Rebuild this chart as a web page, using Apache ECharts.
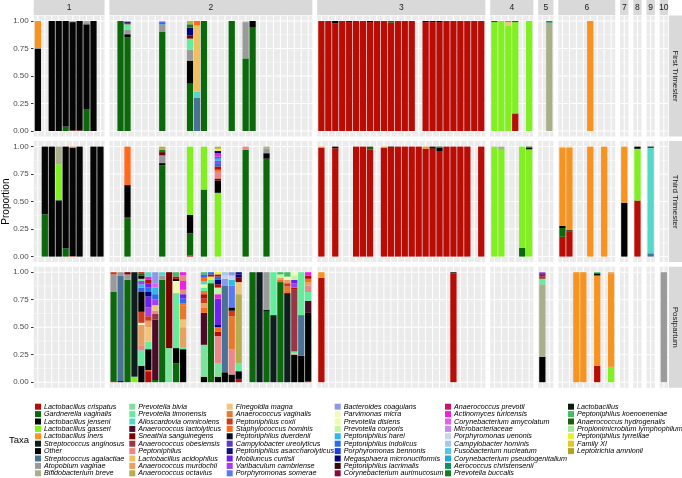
<!DOCTYPE html>
<html>
<head>
<meta charset="utf-8">
<script src="https://cdn.jsdelivr.net/npm/echarts@6.0.0/dist/echarts.min.js"></script>
<style>
html, body { margin: 0; padding: 0; background: #fff; }
#chart { width: 682px; height: 478px; }
</style>
</head>
<body>
<div id="chart"></div>
<script>
// facets
const clusterLabels = ['1', '2', '3', '4', '5', '6', '7', '8', '9', '10'];
const timepointLabels = ['First Trimester', 'Third Trimester', 'Postpartum'];
const samplesPerCluster = [10, 29, 24, 6, 2, 8, 1, 1, 1, 1];
const yTicks = [0, 0.25, 0.5, 0.75, 1];
const yMinorTicks = [0.125, 0.375, 0.625, 0.875];

// taxa (legend order, 10 per column)
const taxaCodes = ['Lcr', 'Gva', 'Ljen', 'Lga', 'Lin', 'San', 'Oth', 'Sag', 'Ava', 'Bbr',
  'Pbi', 'Pti', 'Aom', 'Ala', 'Ssa', 'Aob', 'Pep', 'Lac', 'Amu', 'Aoc',
  'Fma', 'Avg', 'Pco', 'Sho', 'Pdu', 'Cur', 'Pas', 'Mcu', 'Vca', 'Pso',
  'Bco', 'Pmi', 'Pdi', 'Pcor', 'Pha', 'Pind', 'Pbe', 'Mmi', 'Pla', 'Cau',
  'Apr', 'Atu', 'Cam', 'Mic', 'Pue', 'Cho', 'Fnu', 'Cps', 'Ach', 'Pbu',
  'Lsp', 'Pko', 'Ahy', 'Ply', 'Pty', 'FXI', 'Lam'];
const taxaNames = ['Lactobacillus crispatus', 'Gardnerella vaginalis', 'Lactobacillus jenseni', 'Lactobacillus gasseri', 'Lactobacillus iners',
  'Streptococcus anginosus', 'Other', 'Streptococcus agalactiae', 'Atopobium vaginae', 'Bifidobacterium breve',
  'Prevotella bivia', 'Prevotella timonensis', 'Alloscardovia omnicolens', 'Anaerococcus lactolyticus', 'Sneathia sanguinegens',
  'Anaerococcus obesiensis', 'Peptoniphilus', 'Lactobacillus acidophilus', 'Anaerococcus murdochii', 'Anaerococcus octavius',
  'Finegoldia magna', 'Anaerococcus vaginalis', 'Peptoniphilus coxii', 'Staphylococcus hominis', 'Peptoniphilus duerdenii',
  'Campylobacter ureolyticus', 'Peptoniphilus asaccharolyticus', 'Mobiluncus curtisii', 'Varibaculum cambriense', 'Porphyromonas somerae',
  'Bacteroides coagulans', 'Parvimonas micra', 'Prevotella disiens', 'Prevotella corporis', 'Peptoniphilus harei',
  'Peptoniphilus indolicus', 'Porphyromonas bennonis', 'Megasphaera micronuciformis', 'Peptoniphilus lacrimalis', 'Corynebacterium aurimucosum',
  'Anaerococcus prevotii', 'Actinomyces turicensis', 'Corynebacterium amycolatum', 'Microbacteriaceae', 'Porphyromonas uenonis',
  'Campylobacter hominis', 'Fusobacterium nucleatum', 'Corynebacterium pseudogenitalium', 'Aerococcus christensenii', 'Prevotella buccalis',
  'Lactobacillus', 'Peptoniphilus koenoeneniae', 'Anaerococcus hydrogenalis', 'Propionimicrobium lymphophilum', 'Peptoniphilus tyrrelliae',
  'Family XI', 'Leptotrichia amnionii'];
const taxaColors = ['#B80C05', '#0B690B', '#050505', '#80F020', '#F7931E', '#0E1E1E', '#000000', '#4A7196', '#9A9A9A', '#A8AF8A',
  '#7BE39B', '#62EC9C', '#55D8C8', '#4A0A28', '#7A0000', '#9A3545', '#E8888A', '#F0C060', '#E9A060', '#B5AE4E',
  '#F0C57A', '#E8782E', '#CC3A1E', '#FF6A1F', '#0A0A1E', '#5A3AC8', '#10107A', '#7020F0', '#A040F0', '#5A78F0',
  '#8A9AE8', '#F2F8BE', '#EAFFA8', '#C0F8A0', '#30B8E8', '#2E6AF0', '#1A40E0', '#000080', '#3A0808', '#8A0A38',
  '#D0106A', '#F020E0', '#E060F0', '#C48AF0', '#C8D4F4', '#A0C8F0', '#50C8EE', '#20A8E0', '#109060', '#108020',
  '#0A1F0A', '#40C060', '#1F5A0F', '#A8E89A', '#E8F030', '#E0C828', '#B0A420'];

// per timepoint, per cluster: sample index -> segments bottom to top [taxon, proportion]
const firstTrimester = [
  { 0: [['Ljen', .75], ['Ava', .005], ['Lin', .245]], 2: [['Ljen', 1]], 3: [['Ljen', 1]], 4: [['Gva', .04], ['Ljen', .96]],
    5: [['Lcr', .005], ['Ljen', .985], ['Aoc', .01]], 6: [['Lcr', .005], ['Ljen', .995]],
    7: [['Gva', .2], ['Ljen', .77], ['Ava', .02], ['Aom', .01]], 8: [['Ljen', 1]] },
  { 1: [['Gva', 1]],
    2: [['Gva', .85], ['Oth', .03], ['Ava', .04], ['Pti', .05], ['Lcr', .01], ['Mmi', .01], ['Pep', .01]],
    7: [['Gva', .9], ['Ava', .07], ['Pind', .02], ['Aom', .01]],
    11: [['Gva', .43], ['Oth', .21], ['Ava', .1], ['Pti', .1], ['Ssa', .03], ['Mmi', .07], ['Pbu', .03], ['Aoc', .03]],
    12: [['Sag', .3], ['Aom', .06], ['Lac', .6], ['Sho', .04]],
    13: [['Gva', 1]], 17: [['Gva', 1]],
    19: [['Gva', .66], ['Ava', .33], ['Pue', .01]],
    20: [['Gva', .94], ['Oth', .06]] },
  { 0: [['Lcr', 1]], 1: [['Lcr', 1]], 2: [['Lcr', .98], ['Oth', .02]], 3: [['Lcr', 1]], 4: [['Lcr', .99], ['Lsp', .01]],
    5: [['Lcr', 1]], 6: [['Lcr', 1]], 7: [['Lcr', .99], ['Oth', .01]], 8: [['Lcr', 1]], 9: [['Lcr', 1]],
    10: [['Lcr', .985], ['Ahy', .015]], 11: [['Lcr', 1]], 12: [['Lcr', 1]], 13: [['Lcr', 1]],
    15: [['Lcr', .99], ['Oth', .01]], 16: [['Lcr', .99], ['Lsp', .01]], 17: [['Lcr', .99], ['Oth', .01]],
    18: [['Lcr', 1]], 19: [['Lcr', 1]], 20: [['Lcr', 1]], 21: [['Lcr', 1]], 22: [['Lcr', 1]], 23: [['Lcr', 1]] },
  { 0: [['Lga', .99], ['Gva', .01]], 1: [['Lga', 1]], 2: [['Lga', .955], ['Fma', .04], ['Gva', .005]],
    3: [['Lcr', .16], ['Lga', .83], ['Gva', .01]], 5: [['Lga', 1]] },
  { 1: [['Bbr', .985], ['Ach', .015]] },
  { 4: [['Lin', 1]] },
  {}, {}, {}, {}
];

const thirdTrimester = [
  { 1: [['Gva', .385], ['Ljen', .615]], 2: [['Ljen', 1]], 3: [['Ljen', .51], ['Gva', .005], ['Lga', .325], ['Bbr', .16]],
    4: [['Gva', .075], ['Ljen', .925]], 5: [['Lcr', .005], ['Ljen', .985], ['Sho', .01]], 6: [['Ljen', 1]],
    8: [['Ljen', 1]], 9: [['Ljen', 1]] },
  { 2: [['Gva', .35], ['Lcr', .01], ['Oth', .29], ['Sho', .35]],
    7: [['Gva', .83], ['Oth', .02], ['Ava', .07], ['Ssa', .03], ['Pbu', .02], ['Aoc', .03]],
    11: [['Lcr', .01], ['Gva', .2], ['Oth', .17], ['Lga', .62]],
    13: [['Gva', .61], ['Lga', .39]],
    15: [['Lga', .58], ['Oth', .11], ['Ssa', .02], ['Pep', .06], ['Sho', .02], ['Lcr', .03], ['Pind', .03], ['Vca', .02],
      ['Pha', .02], ['Pind', .02], ['Atu', .03], ['Mmi', .02], ['Pty', .02], ['Aoc', .02]],
    19: [['Gva', .97], ['Pep', .03]],
    22: [['Gva', .89], ['Oth', .05], ['Ava', .04], ['Bbr', .02]] },
  { 0: [['Lcr', .99], ['Lin', .01]], 2: [['Lcr', .985], ['Oth', .015]], 5: [['Lcr', 1]], 6: [['Lcr', 1]],
    7: [['Lcr', .975], ['Ahy', .025]], 9: [['Lcr', .99], ['Lin', .01]], 10: [['Lcr', .99], ['Oth', .01]],
    11: [['Lcr', 1]], 12: [['Lcr', 1]], 13: [['Lcr', 1]], 14: [['Lcr', 1]], 15: [['Lcr', .98], ['Lin', .02]],
    16: [['Lcr', .98], ['Pla', .02]], 17: [['Lcr', .96], ['Oth', .03], ['Gva', .01]], 18: [['Lcr', 1]],
    19: [['Lcr', 1]], 20: [['Lcr', 1]], 21: [['Lcr', 1]], 23: [['Lcr', 1]] },
  { 0: [['Lga', .99], ['Bbr', .01]], 1: [['Lga', .97], ['Bbr', .03]], 4: [['Gva', .08], ['Lga', .92]],
    5: [['Lga', .975], ['Oth', .015], ['Gva', .01]] },
  {},
  { 0: [['Lcr', .18], ['Gva', .08], ['Oth', .02], ['Lin', .71], ['Fma', .01]], 1: [['Lcr', .23], ['Oth', .01], ['Lin', .75], ['Fma', .01]],
    4: [['Lin', 1]], 6: [['Lin', 1]] },
  { 0: [['Oth', .49], ['Lin', .51]] },
  { 0: [['Lcr', .51], ['Lga', .47], ['Oth', .02]] },
  { 0: [['Sag', .03], ['Aom', .96], ['Oth', .01]] },
  {}
];

const postpartum = [
  {},
  { 0: [['Lcr', .01], ['Gva', .81], ['Ava', .16], ['Pco', .02]],
    1: [['Oth', .01], ['Sag', .96], ['Ava', .03]],
    2: [['Gva', .93], ['Ava', .05], ['Ssa', .02]],
    3: [['Lga', .05], ['San', .95]],
    4: [['Oth', .15], ['Pti', .14], ['Pep', .04], ['Amu', .19], ['Pmi', .02], ['Pco', .1], ['Oth', .18], ['Pind', .04],
      ['Pha', .03], ['Vca', .03], ['Pti', .02], ['Oth', .03], ['Gva', .02], ['Lcr', .01]],
    5: [['Lcr', .1], ['Sho', .01], ['Oth', .19], ['Pti', .07], ['Fma', .13], ['Amu', .05], ['Avg', .01], ['Pco', .04],
      ['Vca', .08], ['Mcu', .1], ['Mmi', .04], ['Pind', .04], ['Mcu', .04], ['Lcr', .03], ['Atu', .03], ['Aom', .04]],
    6: [['Gva', .02], ['Ala', .55], ['Aob', .05], ['Pep', .03], ['Fma', .05], ['Vca', .05], ['Pind', .05], ['Pha', .06],
      ['Cam', .04], ['Bco', .1]],
    7: [['Gva', .93], ['Ava', .04], ['Aom', .03]],
    8: [['Pbi', .31], ['Ssa', .69]],
    9: [['Gva', .17], ['Oth', .14], ['Pti', .5], ['Pdi', .11], ['Oth', .02], ['Lcr', .02], ['Pko', .04]],
    10: [['Oth', .3], ['Pti', .02], ['Amu', .18], ['Fma', .07], ['Avg', .13], ['Sho', .02], ['Pind', .04], ['Mcu', .04],
      ['Pep', .04], ['Atu', .08], ['Pep', .05], ['Atu', .03]],
    13: [['Oth', .05], ['Pbi', .29], ['Ala', .29], ['Sho', .05], ['Amu', .04], ['Pco', .04], ['Lcr', .04], ['Avg', .03],
      ['Pti', .03], ['Pdi', .03], ['Aom', .03], ['Sho', .03], ['Pind', .03], ['Pko', .02]],
    14: [['Gva', .9], ['Pti', .03], ['Pty', .03], ['Lcr', .02], ['Pind', .02]],
    15: [['Oth', .05], ['Pbi', .12], ['Pep', .25], ['Lcr', .04], ['Sho', .04], ['Mmi', .02], ['Mcu', .24], ['Atu', .04],
      ['Pcor', .06], ['Lcr', .03], ['Mmi', .04], ['Pind', .03], ['Lcr', .02], ['Pty', .02]],
    16: [['Oth', .09], ['Sag', .79], ['Bco', .06], ['Pue', .03], ['Cho', .03]],
    17: [['Oth', .07], ['Pep', .23], ['Avg', .3], ['Pco', .05], ['Oth', .03], ['Pso', .2], ['Pha', .05], ['Pue', .04], ['Bco', .03]],
    18: [['Lcr', .03], ['Oth', .07], ['Pti', .07], ['Aoc', .63], ['Fma', .11], ['Ssa', .04], ['Mmi', .03], ['Pas', .02]],
    20: [['Gva', 1]],
    21: [['San', 1]],
    22: [['Gva', .64], ['San', .02], ['Ava', .34]],
    23: [['San', .61], ['Pti', .39]],
    24: [['Gva', .91], ['Sho', .02], ['Amu', .02], ['Pcor', .03], ['Pko', .02]],
    25: [['San', .81], ['Sho', .02], ['Avg', .04], ['Pco', .03], ['Amu', .03], ['Pmi', .03], ['Pko', .04]],
    26: [['Oth', .25], ['Amu', .01], ['Pti', .02], ['Aob', .56], ['Lcr', .02], ['Vca', .04], ['Mcu', .03], ['Pcor', .04], ['Pmi', .03]],
    27: [['Oth', .24], ['Sag', .37], ['Pti', .39]],
    28: [['Lcr', .01], ['Oth', .62], ['Ala', .11], ['Pti', .08], ['Pep', .06], ['Amu', .03], ['Sho', .03], ['Lcr', .03], ['Atu', .03]] },
  { 0: [['Lcr', .95], ['Lin', .05]], 19: [['Lcr', .99], ['Pla', .01]] },
  {},
  { 0: [['Oth', .23], ['Bbr', .66], ['Pti', .05], ['Aob', .02], ['Lcr', .02], ['Mmi', .01], ['Vca', .01]] },
  { 2: [['Lin', 1]], 3: [['Lin', 1]], 5: [['Lcr', .15], ['Lin', .82], ['Oth', .02], ['Pko', .01]],
    7: [['Lga', .14], ['Lin', .85], ['Amu', .01]] },
  {}, {}, {},
  { 0: [['Ava', 1]] }
];

const timepoints = [firstTrimester, thirdTrimester, postpartum];
const codeIndex = {};
taxaCodes.forEach((c, i) => { codeIndex[c] = i; });

// layout
const plotLeft = 33.7, plotRight = 668, colGap = 4.84;
const panelTop = 15.5, panelH = 121, rowGap = 4.6;
const units = samplesPerCluster.map(n => n + 0.2);
const u = (plotRight - plotLeft - colGap * 9) / units.reduce((a, b) => a + b, 0);
const colLeft = [];
let cx = plotLeft;
units.forEach(w => { colLeft.push(cx); cx += w * u + colGap; });
const rowTop = timepoints.map((t, r) => panelTop + r * (panelH + rowGap));

function gridLineItem (params, api) {
  const cs = params.coordSys;
  const kind = api.value(2);
  if (kind === 0) {
    const x = api.coord([api.value(0), 0])[0];
    return { type: 'line', shape: { x1: x, y1: cs.y, x2: x, y2: cs.y + cs.height }, style: { stroke: '#FFFFFF', lineWidth: 1 } };
  }
  const y = api.coord([0, api.value(1)])[1];
  return { type: 'line', shape: { x1: cs.x, y1: y, x2: cs.x + cs.width, y2: y },
    style: { stroke: '#FFFFFF', lineWidth: kind === 1 ? 1 : 0.5 } };
}

function barItem (params, api) {
  const a = api.coord([api.value(0) - 0.45, api.value(2)]);
  const b = api.coord([api.value(0) + 0.45, api.value(1)]);
  return { type: 'rect', shape: { x: a[0], y: a[1], width: b[0] - a[0], height: b[1] - a[1] },
    style: { fill: taxaColors[api.value(3)] } };
}

const grids = [], xAxes = [], yAxes = [], series = [], graphics = [];

timepoints.forEach((rowData, r) => {
  samplesPerCluster.forEach((n, c) => {
    const gi = grids.length;
    grids.push({ left: colLeft[c], top: rowTop[r], width: units[c] * u, height: panelH,
      show: true, backgroundColor: '#EBEBEB', borderWidth: 0 });
    xAxes.push({ gridIndex: gi, type: 'value', min: -0.6, max: n - 0.4, show: false });
    yAxes.push({ gridIndex: gi, type: 'value', min: -0.05, max: 1.05, show: false });
    const lines = [];
    for (let i = 0; i < n; i++) lines.push([i, 0, 0]);
    yTicks.forEach(v => lines.push([0, v, 1]));
    yMinorTicks.forEach(v => lines.push([0, v, 2]));
    series.push({ type: 'custom', xAxisIndex: gi, yAxisIndex: gi, silent: true, z: 1,
      data: lines, renderItem: gridLineItem });
    const bars = [];
    Object.keys(rowData[c]).forEach(k => {
      const segs = rowData[c][k];
      const total = segs.reduce((s, d) => s + d[1], 0);
      let acc = 0;
      segs.forEach(([code, p]) => {
        bars.push([+k, acc / total, (acc + p) / total, codeIndex[code]]);
        acc += p;
      });
    });
    series.push({ type: 'custom', xAxisIndex: gi, yAxisIndex: gi, silent: true, z: 2,
      encode: { x: 0, y: [1, 2] }, data: bars, renderItem: barItem });
  });
});

// y axis labels, one per row
timepoints.forEach((t, r) => {
  const gi = grids.length;
  grids.push({ left: plotLeft, top: rowTop[r] + panelH * 0.05 / 1.1, width: 1, height: panelH / 1.1, show: false });
  xAxes.push({ gridIndex: gi, type: 'value', min: 0, max: 1, show: false });
  yAxes.push({ gridIndex: gi, type: 'value', min: 0, max: 1, interval: 0.25, position: 'left',
    axisLine: { show: false }, splitLine: { show: false },
    axisTick: { show: true, length: 2.7, lineStyle: { color: '#333333', width: 1 } },
    axisLabel: { formatter: v => v.toFixed(2), fontSize: 8, color: '#4D4D4D', margin: 5, fontFamily: 'Liberation Sans' } });
});

// strips
clusterLabels.forEach((lab, c) => {
  const w = units[c] * u;
  graphics.push({ type: 'rect', silent: true, shape: { x: colLeft[c], y: 0, width: w, height: 15 }, style: { fill: '#D9D9D9' } });
  graphics.push({ type: 'text', silent: true, x: colLeft[c] + w / 2, y: 7.8,
    style: { text: lab, fill: '#1A1A1A', fontSize: 8.5, fontFamily: 'Liberation Sans', align: 'center', verticalAlign: 'middle' } });
});
timepointLabels.forEach((lab, r) => {
  graphics.push({ type: 'rect', silent: true, shape: { x: plotRight + 0.9, y: rowTop[r], width: 682 - plotRight - 0.9, height: panelH },
    style: { fill: '#D9D9D9' } });
  graphics.push({ type: 'text', silent: true, x: plotRight + 0.9 + (682 - plotRight - 0.9) / 2, y: rowTop[r] + panelH / 2,
    rotation: -Math.PI / 2,
    style: { text: lab, fill: '#1A1A1A', fontSize: 8, fontFamily: 'Liberation Sans', align: 'center', verticalAlign: 'middle' } });
});
graphics.push({ type: 'text', silent: true, x: 6, y: rowTop[1] + panelH / 2, rotation: Math.PI / 2,
  style: { text: 'Proportion', fill: '#000000', fontSize: 10, fontFamily: 'Liberation Sans', align: 'center', verticalAlign: 'middle' } });
graphics.push({ type: 'text', silent: true, x: 9, y: 440,
  style: { text: 'Taxa', fill: '#000000', fontSize: 9.5, fontFamily: 'Liberation Sans', align: 'left', verticalAlign: 'middle' } });

// legend: dummy series carry the colours
taxaNames.forEach((name, i) => {
  series.push({ type: 'bar', name: name, xAxisIndex: 0, yAxisIndex: 0, data: [], itemStyle: { color: taxaColors[i] } });
});
const legendX = [35, 129.3, 226.7, 334.7, 445, 568];
const legends = legendX.map((lx, k) => ({
  left: lx, top: 403, orient: 'vertical', padding: 0, itemWidth: 6, itemHeight: 6, itemGap: 0,
  icon: 'rect', selectedMode: false, itemStyle: { borderWidth: 0 },
  data: taxaNames.slice(k * 10, k * 10 + 10),
  textStyle: { fontSize: 7.2, fontStyle: 'italic', color: '#000000', lineHeight: 7.4, fontFamily: 'Liberation Sans', padding: [0, 0, 0, -2] }
}));

const chart = echarts.init(document.getElementById('chart'));
chart.setOption({
  animation: false,
  backgroundColor: '#FFFFFF',
  textStyle: { fontFamily: 'Liberation Sans' },
  grid: grids,
  xAxis: xAxes,
  yAxis: yAxes,
  legend: legends,
  graphic: graphics,
  series: series
});
</script>
</body>
</html>
